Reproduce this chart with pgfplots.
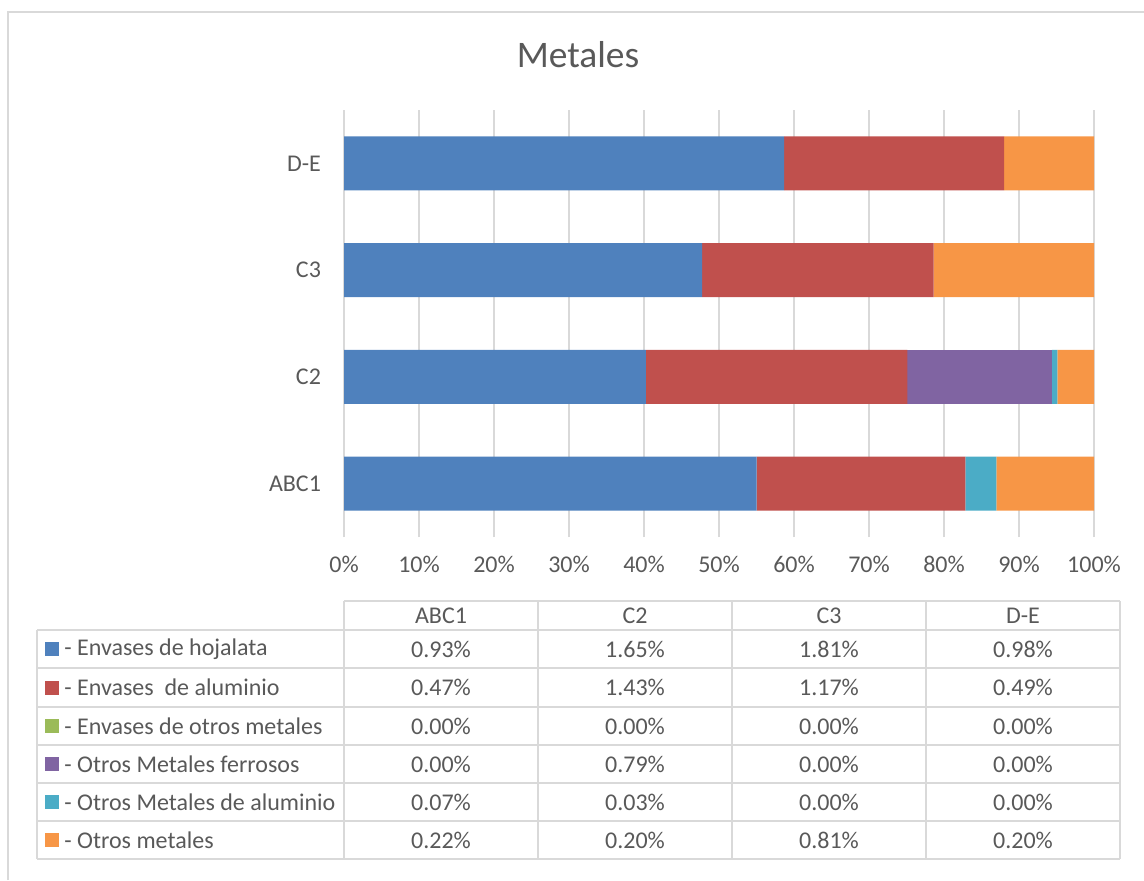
\documentclass[border=0pt]{standalone}
\usepackage{fontspec}
\setmainfont{Carlito}
\usepackage{pgfplots}
\pgfplotsset{compat=1.18}
\definecolor{cBlue}{HTML}{4F81BD}
\definecolor{cRed}{HTML}{C0504D}
\definecolor{cGreen}{HTML}{9BBB59}
\definecolor{cPurple}{HTML}{8064A2}
\definecolor{cCyan}{HTML}{4BACC6}
\definecolor{cOrange}{HTML}{F79646}
\definecolor{txt}{HTML}{595959}
\definecolor{gridc}{HTML}{D9D9D9}
\begin{document}
\begin{tikzpicture}
\begin{scope}[x=0.5pt,y=-0.5pt]
\useasboundingbox (0,0) rectangle (1144,880);
\draw[gridc, line width=1pt] (8,880) -- (8,12) -- (1144,12);
\node[txt, font=\fontsize{18.75}{21}\selectfont] at (578,55) {Metales};
\end{scope}
\begin{axis}[
  at={(172pt,-268.5pt)}, anchor=south west,
  scale only axis, width=375pt, height=213.5pt,
  xbar stacked, bar width=27pt,
  xmin=0, xmax=100, ymin=-0.5, ymax=3.5,
  ytick={0,1,2,3}, yticklabels={ABC1,C2,C3,D-E},
  xtick={0,10,...,100},
  xticklabel={\pgfmathprintnumber{\tick}\%},
  /pgf/number format/assume math mode=true,
  axis line style={draw=none},
  tick style={draw=none},
  xmajorgrids, major grid style={color=gridc, line width=0.75pt},
  ticklabel style={font=\fontsize{12}{14}\selectfont, text=txt},
  xticklabel style={yshift=-6pt},
  yticklabel style={xshift=-8pt},
]
\addplot[fill=cBlue, draw=none] coordinates {(55.03,0) (40.24,1) (47.76,2) (58.68,3)};
\addplot[fill=cRed, draw=none] coordinates {(27.81,0) (34.88,1) (30.87,2) (29.34,3)};
\addplot[fill=cGreen, draw=none] coordinates {(0,0) (0,1) (0,2) (0,3)};
\addplot[fill=cPurple, draw=none] coordinates {(0,0) (19.27,1) (0,2) (0,3)};
\addplot[fill=cCyan, draw=none] coordinates {(4.14,0) (0.73,1) (0,2) (0,3)};
\addplot[fill=cOrange, draw=none] coordinates {(13.02,0) (4.88,1) (21.37,2) (11.98,3)};
\end{axis}
% data table
\begin{scope}[x=0.5pt,y=-0.5pt]
\begin{scope}[gridc, line width=1pt]
\draw (344,601) -- (1120,601);
\foreach \yy in {630,668,707,745,783,821,859} \draw (37,\yy) -- (1120,\yy);
\draw (37,630) -- (37,859);
\foreach \xx in {344,538,732,926,1120} \draw (\xx,601) -- (\xx,859);
\end{scope}
\begin{scope}[every node/.style={text=txt, font=\fontsize{12}{14}\selectfont}]
\node at (441,615.5) {ABC1};
\node at (635,615.5) {C2};
\node at (829,615.5) {C3};
\node at (1023,615.5) {D-E};
\foreach \yc/\col/\lab/\a/\b/\c/\d in {
  649/cBlue/{- Envases de hojalata}/0.93/1.65/1.81/0.98,
  687.5/cRed/{- Envases\ \ de aluminio}/0.47/1.43/1.17/0.49,
  726/cGreen/{- Envases de otros metales}/0.00/0.00/0.00/0.00,
  764/cPurple/{- Otros Metales ferrosos}/0.00/0.79/0.00/0.00,
  802/cCyan/{- Otros Metales de aluminio}/0.07/0.03/0.00/0.00,
  840/cOrange/{- Otros metales}/0.22/0.20/0.81/0.20} {
  \fill[\col] (45,\yc-7) rectangle (59,\yc+7);
  \node[anchor=west, inner sep=0pt] at (64,\yc) {\lab};
  \node at (441,\yc) {\a\%};
  \node at (635,\yc) {\b\%};
  \node at (829,\yc) {\c\%};
  \node at (1023,\yc) {\d\%};
}
\end{scope}
\end{scope}
\end{tikzpicture}
\end{document}
